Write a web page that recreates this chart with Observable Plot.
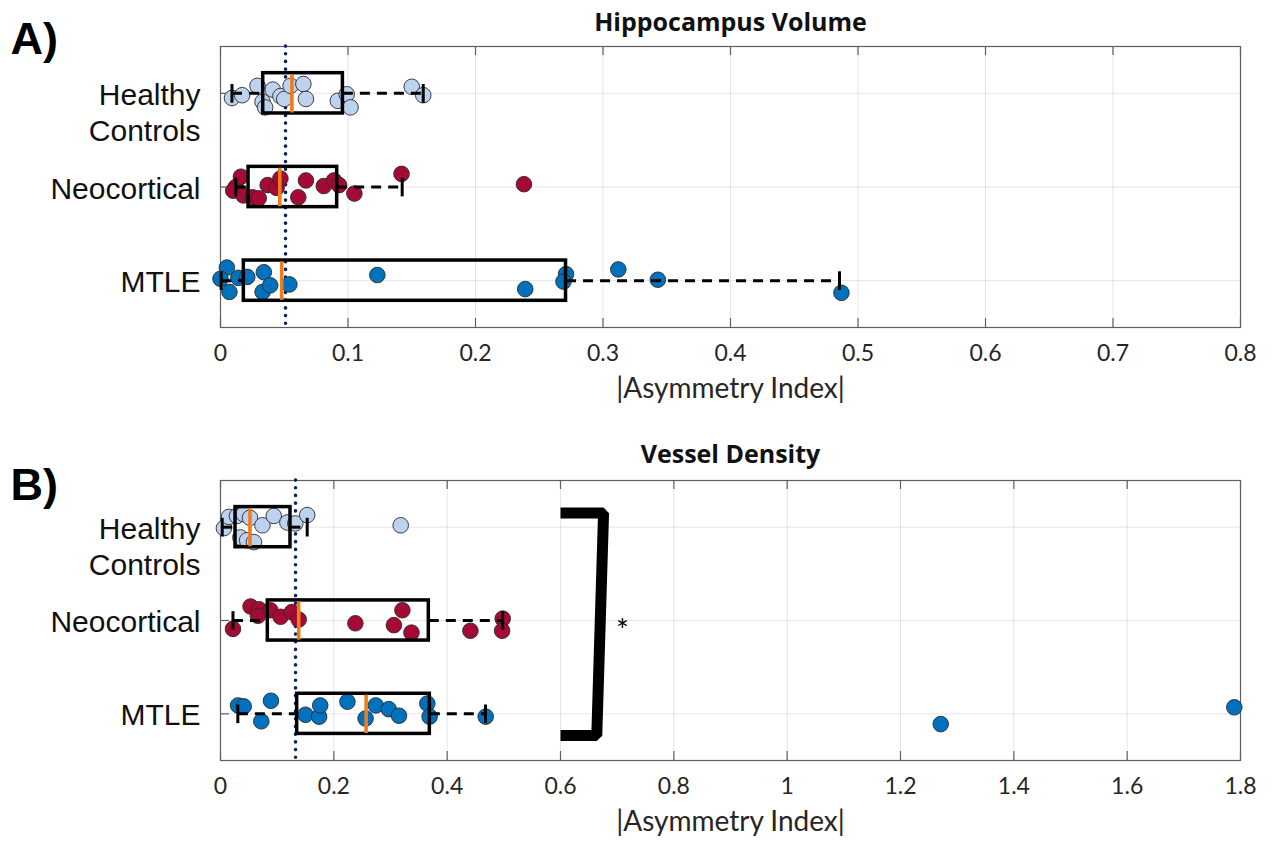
<!DOCTYPE html>
<html>
<head>
<meta charset="utf-8">
<script src="https://cdn.jsdelivr.net/npm/d3@7"></script>
<script src="https://cdn.jsdelivr.net/npm/@observablehq/plot@0.6"></script>
<style>
  html, body { margin: 0; padding: 0; background: #fff; }
  #chart svg { display: block; }
</style>
</head>
<body>
<div id="chart"></div>
<script>
// ---------- shared ----------
const categories = ["Healthy\nControls", "Neocortical", "MTLE"];
const groupColors = ["#bcd2ee", "#a50a35", "#0072bd"];
const axisLabel = "|Asymmetry Index|";

// ---------- Panel A: Hippocampus Volume ----------
const titleA = "Hippocampus Volume";
const tagA = "A)";
const xTicksA = [0, 0.1, 0.2, 0.3, 0.4, 0.5, 0.6, 0.7, 0.8];
const hvHealthyValues = [0.009, 0.017, 0.029, 0.033, 0.035, 0.041, 0.047, 0.050, 0.055, 0.065, 0.067, 0.092, 0.099, 0.102, 0.150, 0.159];
const hvHealthyJitter = [0.05, 0.02, -0.08, 0.09, 0.15, -0.04, 0.03, 0.06, -0.08, -0.10, 0.06, 0.08, 0.01, 0.15, -0.07, 0.02];
const hvNeoValues = [0.012, 0.010, 0.016, 0.018, 0.025, 0.030, 0.037, 0.044, 0.047, 0.061, 0.067, 0.081, 0.089, 0.093, 0.105, 0.142, 0.238];
const hvNeoJitter = [0.00, 0.04, -0.11, 0.09, 0.11, 0.12, -0.02, 0.01, -0.09, 0.11, -0.07, -0.01, -0.07, -0.02, 0.07, -0.14, -0.03];
const hvMtleValues = [0.005, 0.000, 0.007, 0.014, 0.021, 0.034, 0.033, 0.039, 0.054, 0.123, 0.239, 0.271, 0.269, 0.312, 0.343, 0.487];
const hvMtleJitter = [-0.14, -0.02, 0.12, -0.03, -0.04, -0.09, 0.12, 0.05, 0.04, -0.06, 0.09, -0.07, 0.01, -0.12, -0.01, 0.13];
const hvWhiskerLow = [0.009, 0.012, 0.0005];
const hvQ1 = [0.0335, 0.022, 0.0183];
const hvMedian = [0.056, 0.0465, 0.048];
const hvQ3 = [0.096, 0.0915, 0.271];
const hvWhiskerHigh = [0.159, 0.1425, 0.4855];
const hvThreshold = 0.051;

// ---------- Panel B: Vessel Density ----------
const titleB = "Vessel Density";
const tagB = "B)";
const xTicksB = [0, 0.2, 0.4, 0.6, 0.8, 1, 1.2, 1.4, 1.6, 1.8];
const vdHealthyValues = [0.006, 0.015, 0.029, 0.041, 0.052, 0.035, 0.047, 0.059, 0.074, 0.094, 0.118, 0.132, 0.153, 0.318];
const vdHealthyJitter = [0.01, -0.11, -0.12, -0.14, -0.10, 0.11, 0.14, 0.16, -0.02, -0.12, -0.05, -0.04, -0.13, -0.02];
const vdNeoValues = [0.022, 0.053, 0.068, 0.066, 0.088, 0.106, 0.126, 0.138, 0.238, 0.321, 0.306, 0.337, 0.441, 0.498, 0.497];
const vdNeoJitter = [0.09, -0.15, -0.12, -0.05, -0.11, -0.04, -0.09, -0.01, 0.03, -0.11, 0.05, 0.13, 0.11, -0.02, 0.11];
const vdMtleValues = [0.031, 0.041, 0.089, 0.072, 0.150, 0.174, 0.176, 0.224, 0.256, 0.274, 0.297, 0.315, 0.365, 0.369, 0.468, 1.271, 1.789];
const vdMtleJitter = [-0.09, -0.08, -0.14, 0.08, 0.01, 0.03, -0.09, -0.13, 0.05, -0.09, -0.05, 0.02, -0.11, 0.03, 0.03, 0.11, -0.07];
const vdWhiskerLow = [0.003, 0.022, 0.0306];
const vdQ1 = [0.0265, 0.0835, 0.1353];
const vdMedian = [0.052, 0.138, 0.257];
const vdQ3 = [0.1235, 0.3676, 0.3694];
const vdWhiskerHigh = [0.153, 0.498, 0.4676];
const vdThreshold = 0.1324;
// significance bracket (x, category-row position) and star
const bracketX = [0.6, 0.676, 0.664, 0.6];
const bracketY = [0.848, 0.848, 3.233, 3.233];
const starLabel = "*";
const starX = 0.709;
const starY = 2.12;

// ---------- builder ----------
const W = 1275, ML = 220, MR = 35;
const BOX_HALF = 0.215, CAP_HALF = 0.1, MED_HALF = 0.205;

function buildPoints(valueArrays, jitterArrays) {
  const pts = [];
  valueArrays.forEach((vals, g) => vals.forEach((v, i) => pts.push({v, row: g + 1, j: jitterArrays[g][i], g})));
  return pts;
}
function buildStats(lo, q1, med, q3, hi) {
  return lo.map((d, i) => ({row: i + 1, lo: d, q1: q1[i], med: med[i], q3: q3[i], hi: hi[i]}));
}
const fmt = d => String(+d.toFixed(2));

function panel({title, tag, tagDy, titleDy, xDomain, xTicks, points, stats, threshold, marginTop, plotH, marginBottom, extra = []}) {
  const height = marginTop + plotH + marginBottom;
  const plotW = W - ML - MR;
  return Plot.plot({
    width: W, height,
    marginLeft: ML, marginRight: MR, marginTop, marginBottom,
    style: {background: "#fff", overflow: "visible"},
    x: {domain: xDomain, label: null, axis: null},
    y: {domain: [0.5, 3.5], reverse: true, label: null, axis: null},
    marks: [
      Plot.gridX(xTicks, {stroke: "#000", strokeOpacity: 0.1, strokeWidth: 1}),
      Plot.gridY([1, 2, 3], {stroke: "#000", strokeOpacity: 0.1, strokeWidth: 1}),
      Plot.frame({stroke: "#5f5f5f", strokeWidth: 1.2}),
      // inward ticks (bottom, top, left)
      Plot.ruleX(xTicks, {x: d => d, insetTop: plotH - 9, stroke: "#5f5f5f", strokeWidth: 1.2}),
      Plot.ruleX(xTicks, {x: d => d, insetBottom: plotH - 9, stroke: "#5f5f5f", strokeWidth: 1.2}),
      Plot.ruleY([1, 2, 3], {y: d => d, insetRight: plotW - 9, stroke: "#5f5f5f", strokeWidth: 1.2}),
      Plot.axisX({ticks: xTicks, tickFormat: fmt, tickSize: 0, tickPadding: 17, fontSize: 23, fontFamily: "Lato", color: "#262626", label: null}),
      // threshold
      Plot.ruleX([threshold], {x: d => d, stroke: "#0d2260", strokeWidth: 3.6, strokeDasharray: "0.1,7.6", strokeLinecap: "round"}),
      // points
      Plot.dot(points, {x: "v", y: d => d.row + d.j, r: 7.8, fill: d => groupColors[d.g], stroke: "#2b2b2b", strokeWidth: 0.9}),
      // whiskers
      Plot.link(stats, {x1: "lo", x2: "q1", y1: "row", y2: "row", stroke: "#000", strokeWidth: 3, strokeDasharray: "10,7"}),
      Plot.link(stats, {x1: "q3", x2: "hi", y1: "row", y2: "row", stroke: "#000", strokeWidth: 3, strokeDasharray: "10,7"}),
      Plot.link(stats, {x1: "lo", x2: "lo", y1: d => d.row - CAP_HALF, y2: d => d.row + CAP_HALF, stroke: "#000", strokeWidth: 3}),
      Plot.link(stats, {x1: "hi", x2: "hi", y1: d => d.row - CAP_HALF, y2: d => d.row + CAP_HALF, stroke: "#000", strokeWidth: 3}),
      // boxes
      Plot.rect(stats, {x1: "q1", x2: "q3", y1: d => d.row - BOX_HALF, y2: d => d.row + BOX_HALF, fill: "none", stroke: "#000", strokeWidth: 3.5}),
      Plot.link(stats, {x1: "med", x2: "med", y1: d => d.row - MED_HALF, y2: d => d.row + MED_HALF, stroke: "#ef7d1c", strokeWidth: 3.6}),
      ...extra,
      // category labels
      Plot.text(categories, {x: xDomain[0], y: (d, i) => i + 1, text: d => d, textAnchor: "end", dx: -20, lineAnchor: "top", dy: -14, lineHeight: 1.2, fontSize: 30, fontFamily: "Liberation Sans", fill: "#111"}),
      // titles
      Plot.text([title], {frameAnchor: "top", dy: titleDy, fontSize: 25, fontWeight: "bold", fontFamily: "Open Sans", fill: "#111"}),
      Plot.text([axisLabel], {frameAnchor: "bottom", dy: 70, fontSize: 28, fontFamily: "Lato", fill: "#262626"}),
      Plot.text([tag], {frameAnchor: "top-left", dx: -210, dy: tagDy, textAnchor: "start", fontSize: 45, fontWeight: "bold", fontFamily: "Liberation Sans", fill: "#000"})
    ]
  });
}

const chart = document.getElementById("chart");
chart.appendChild(panel({
  title: titleA, tag: tagA, tagDy: -24, titleDy: -33,
  xDomain: [0, 0.8], xTicks: xTicksA,
  points: buildPoints([hvHealthyValues, hvNeoValues, hvMtleValues], [hvHealthyJitter, hvNeoJitter, hvMtleJitter]),
  stats: buildStats(hvWhiskerLow, hvQ1, hvMedian, hvQ3, hvWhiskerHigh),
  threshold: hvThreshold,
  marginTop: 46, plotH: 281, marginBottom: 83
}));
chart.appendChild(panel({
  title: titleB, tag: tagB, tagDy: -12, titleDy: -35,
  xDomain: [0, 1.8], xTicks: xTicksB,
  points: buildPoints([vdHealthyValues, vdNeoValues, vdMtleValues], [vdHealthyJitter, vdNeoJitter, vdMtleJitter]),
  stats: buildStats(vdWhiskerLow, vdQ1, vdMedian, vdQ3, vdWhiskerHigh),
  threshold: vdThreshold,
  marginTop: 70, plotH: 280, marginBottom: 82,
  extra: [
    Plot.line(bracketX.map((x, i) => ({x, y: bracketY[i]})), {x: "x", y: "y", stroke: "#000", strokeWidth: 11, strokeLinejoin: "bevel", strokeLinecap: "butt"}),
    Plot.text([starLabel], {x: () => starX, y: () => starY, text: d => d, fontSize: 30, fontFamily: "Lato", fill: "#000"})
  ]
}));
</script>
</body>
</html>
